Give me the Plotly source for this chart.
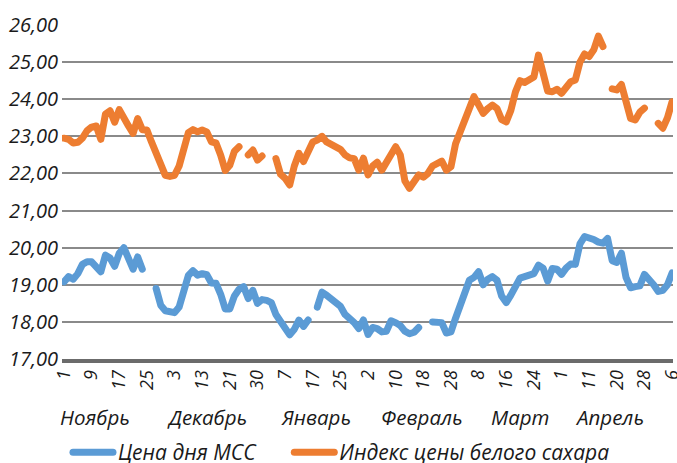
import plotly.graph_objects as go

# Trading-day index (133 trading days, 1 Nov .. 6 May)
day_index = list(range(133))

# X tick labels (every 6th trading day)
tick_labels = ["1", "9", "17", "25", "3", "13", "21", "30", "7", "17", "25", "2",
               "10", "18", "28", "8", "16", "24", "1", "11", "20", "28", "6"]
tick_step = 6

months = ["Ноябрь", "Декабрь", "Январь", "Февраль", "Март", "Апрель"]

N = None
mss_price = [
    19.08, 19.22, 19.15, 19.30, 19.55, 19.62, 19.62, 19.45, 19.35, 19.80,
    19.72, 19.50, 19.85, 20.00, 19.75, 19.42, 19.75, 19.42, N, N,
    18.90, 18.45, 18.30, 18.25, 18.25, 18.40, 18.85, 19.25, 19.38, 19.26,
    19.30, 19.27, 19.05, 19.04, 18.75, 18.35, 18.35, 18.70, 18.88, 18.95,
    18.63, 18.85, 18.50, 18.60, 18.58, 18.52, 18.20, 18.00, 17.85, 17.65,
    17.80, 18.05, 17.88, 18.05, N, 18.40, 18.80, 18.72, 18.62, 18.55,
    18.42, 18.20, 18.10, 17.98, 17.82, 18.05, 17.66, 17.85, 17.82, 17.73,
    17.75, 18.03, 17.98, 17.90, 17.75, 17.68, 17.72, 17.85, N, N,
    18.00, 18.00, 17.98, 17.70, 17.73, 18.10, 18.45, 18.75, 19.12, 19.20,
    19.35, 19.00, 19.15, 19.22, 19.12, 18.70, 18.52, 18.72, 18.95, 19.18,
    19.22, 19.25, 19.30, 19.53, 19.45, 19.10, 19.44, 19.42, 19.28, 19.45,
    19.56, 19.55, 20.10, 20.30, 20.27, 20.22, 20.15, 20.12, 20.25, 19.65,
    19.60, 19.85, 19.20, 18.92, 18.95, 18.97, 19.28, 19.15, 19.00, 18.82,
    18.85, 19.00, 19.32,
]

white_sugar_index = [
    22.95, 22.92, 22.82, 22.84, 22.95, 23.15, 23.25, 23.28, 22.92, 23.60,
    23.69, 23.38, 23.72, 23.45, 23.28, 23.08, 23.48, 23.18, 23.17, 22.85,
    22.55, 22.20, 21.95, 21.92, 21.95, 22.20, 22.60, 23.10, 23.18, 23.12,
    23.17, 23.12, 22.85, 22.82, 22.50, 22.08, 22.22, 22.60, 22.72, N,
    22.50, 22.63, 22.36, 22.47, N, N, 22.40, 21.98, 21.87, 21.69,
    22.20, 22.54, 22.32, 22.60, 22.85, 22.90, 23.00, 22.85, 22.78, 22.72,
    22.65, 22.50, 22.42, 22.40, 22.09, 22.41, 21.96, 22.20, 22.30, 22.09,
    22.30, 22.45, 22.72, 22.50, 21.80, 21.60, 21.80, 21.96, 21.90, 22.00,
    22.20, 22.25, 22.33, 22.09, 22.18, 22.80, 23.15, 23.40, 23.85, 24.07,
    23.85, 23.62, 23.75, 23.84, 23.75, 23.45, 23.39, 23.70, 24.20, 24.50,
    24.45, 24.50, 24.60, 25.19, 24.75, 24.22, 24.20, 24.27, 24.16, 24.35,
    24.47, 24.52, 25.00, 25.22, 25.15, 25.33, 25.70, 25.42, N, 24.28,
    24.25, 24.40, 23.85, 23.48, 23.44, 23.65, 23.76, N, N, 23.35,
    23.22, 23.50, 23.93,
]

series_names = ["Цена дня МСС", "Индекс цены белого сахара"]
series_colors = ["#5B9BD5", "#ED7D31"]
legend_ids = ["legend", "legend2"]

FONT = "Open Sans"
TXT = "#1a1a1a"
fig = go.Figure()
for name, vals, col, lg in zip(series_names, [mss_price, white_sugar_index],
                               series_colors, legend_ids):
    fig.add_trace(go.Scatter(
        x=day_index, y=vals, name=name, mode="lines", legend=lg,
        line=dict(color=col, width=7), connectgaps=False,
    ))

tickvals = day_index[::tick_step]

# month captions (centred under their ticks)
month_pos = [6.7, 31.0, 54.7, 77.7, 99.0, 118.5]
annotations = [
    dict(x=p, y=-0.174, xref="x", yref="paper", text=m, showarrow=False,
         xanchor="center", yanchor="middle",
         font=dict(family=FONT, size=20.5, color=TXT, style="italic"))
    for m, p in zip(months, month_pos)
]

legend_style = dict(orientation="h", xanchor="left", y=-0.28, yanchor="middle",
                    font=dict(family=FONT, size=21, color=TXT, style="italic"),
                    itemwidth=40, bgcolor="rgba(0,0,0,0)")

fig.update_layout(
    width=677, height=463,
    margin=dict(l=62, r=4, t=25, b=104, autoexpand=False),
    paper_bgcolor="white", plot_bgcolor="white",
    separators=", ",
    showlegend=True,
    legend=dict(x=0.0098, **legend_style),
    legend2=dict(x=0.372, **legend_style),
    annotations=annotations,
    xaxis=dict(
        range=[-0.43, 132.2], tickmode="array", tickvals=tickvals, ticktext=tick_labels,
        tickangle=-90, showgrid=False, zeroline=False, automargin=False,
        ticklabeloverflow="allow",
        showline=True, linecolor="#6b6b6b", linewidth=4,
        ticks="", tickfont=dict(family=FONT, size=18, color=TXT, style="italic"),
    ),
    yaxis=dict(
        range=[17, 26], dtick=1, tick0=17, tickformat=".2f", automargin=False,
        showgrid=True, gridcolor="#8a8a8a", gridwidth=1.5, zeroline=False,
        ticks="", ticklabelstandoff=3,
        tickfont=dict(family=FONT, size=20, color=TXT, style="italic"),
    ),
)

post = ("document.body.style.margin='0';"
        "var s=document.createElement('style');"
        "s.textContent='body{margin:0}.js-line{stroke-linejoin:round !important;stroke-linecap:round !important}';"
        "document.head.appendChild(s);")
fig.write_html("out.html", post_script=post, config={"displayModeBar": False})
